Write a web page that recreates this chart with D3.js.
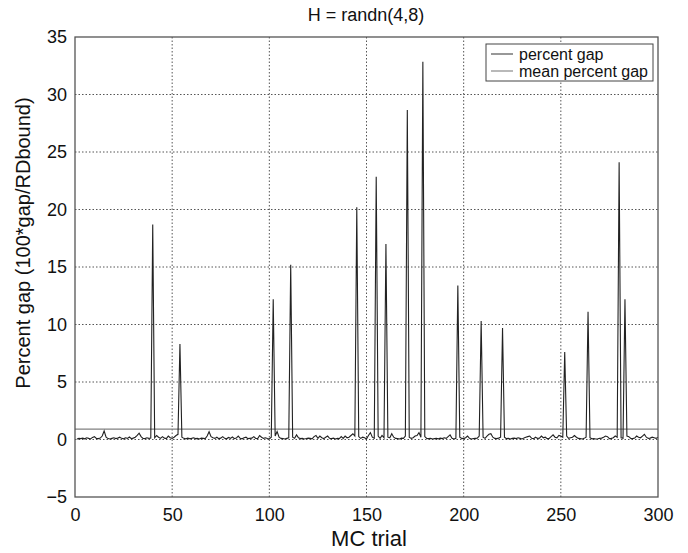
<!DOCTYPE html>
<html>
<head>
<meta charset="utf-8">
<script src="https://cdn.jsdelivr.net/npm/d3@7"></script>
<style>
  body { margin: 0; background: #fff; }
  svg { font-family: "Liberation Sans", Arial, sans-serif; }
</style>
</head>
<body>
<div id="container"></div>
<script>
/** DATA */
const titleText = "H = randn(4,8)";
const xLabel = "MC trial";
const yLabel = "Percent gap (100*gap/RDbound)";
const legendLabels = ["percent gap", "mean percent gap"];
const xTicks = [0, 50, 100, 150, 200, 250, 300];
const yTicks = [-5, 0, 5, 10, 15, 20, 25, 30, 35];

// percent gap for MC trials 1..300
const percentGap = [
  0.05,0.1,0.08,0.12,0.06,0.15,0.1,0.05,0.18,0.25,
  0.1,0.08,0.12,0.3,0.74,0.2,0.08,0.05,0.1,0.15,
  0.08,0.12,0.2,0.1,0.06,0.15,0.1,0.22,0.08,0.12,
  0.2,0.35,0.55,0.25,0.1,0.08,0.15,0.1,0.12,18.7,
  0.15,0.35,0.2,0.1,0.25,0.12,0.08,0.3,0.15,0.1,
  0.2,0.35,0.45,8.3,0.2,0.1,0.06,0.12,0.08,0.1,
  0.15,0.08,0.1,0.05,0.12,0.1,0.08,0.3,0.68,0.25,
  0.15,0.1,0.2,0.08,0.12,0.25,0.1,0.06,0.18,0.1,
  0.22,0.08,0.12,0.3,0.1,0.06,0.15,0.2,0.08,0.1,
  0.12,0.25,0.1,0.08,0.35,0.2,0.1,0.15,0.08,0.05,
  0.2,12.2,0.3,0.7,0.2,0.1,0.08,0.05,0.1,0.15,
  15.2,0.2,0.1,0.4,0.15,0.08,0.1,0.05,0.08,0.12,
  0.1,0.06,0.25,0.35,0.1,0.3,0.15,0.08,0.2,0.3,
  0.1,0.08,0.12,0.05,0.1,0.08,0.25,0.1,0.3,0.15,
  0.2,0.35,0.5,0.3,20.2,0.25,0.1,0.2,0.15,0.05,
  0.35,0.6,0.2,0.1,22.85,0.3,0.1,0.35,0.15,17.0,
  0.2,0.15,0.5,0.2,0.1,0.08,0.05,0.12,0.1,0.3,
  28.65,0.2,0.1,0.15,0.3,0.35,0.6,0.2,32.85,0.25,
  0.1,0.08,0.1,0.05,0.08,0.1,0.06,0.12,0.08,0.15,
  0.1,0.25,0.4,0.1,0.05,0.1,13.4,0.2,0.1,0.08,
  0.15,0.3,0.1,0.05,0.08,0.1,0.12,0.3,10.3,0.2,
  0.1,0.3,0.45,0.5,0.2,0.1,0.08,0.12,0.2,9.7,
  0.2,0.08,0.1,0.05,0.1,0.12,0.08,0.15,0.1,0.05,
  0.12,0.2,0.25,0.3,0.1,0.08,0.2,0.1,0.12,0.3,
  0.15,0.2,0.08,0.1,0.25,0.4,0.2,0.15,0.35,0.3,
  0.2,7.6,0.3,0.1,0.15,0.2,0.35,0.2,0.1,0.08,
  0.05,0.1,0.2,11.1,0.15,0.06,0.08,0.05,0.06,0.1,
  0.12,0.2,0.3,0.25,0.08,0.1,0.15,0.3,0.2,24.1,
  0.15,0.1,12.2,0.3,0.25,0.1,0.08,0.12,0.3,0.2,
  0.15,0.3,0.45,0.2,0.1,0.12,0.2,0.15,0.1,0.2
];
const meanGap = 0.9;

/** LAYOUT */
const width = 688, height = 553,
  margin = { top: 37, right: 30, bottom: 56, left: 75 };

const svg = d3.select("#container").append("svg")
  .attr("width", width)
  .attr("height", height);

const x = d3.scaleLinear().domain([0, 300]).range([margin.left, width - margin.right]);
const y = d3.scaleLinear().domain([-5, 35]).range([height - margin.bottom, margin.top]);

// grid (dotted)
svg.append("g").selectAll("line.vg")
  .data(xTicks.slice(1, -1))
  .join("line")
  .attr("x1", d => x(d)).attr("x2", d => x(d))
  .attr("y1", y(-5)).attr("y2", y(35))
  .attr("stroke", "#555").attr("stroke-width", 1)
  .attr("stroke-dasharray", "1.5,2");
svg.append("g").selectAll("line.hg")
  .data(yTicks.slice(1, -1))
  .join("line")
  .attr("y1", d => y(d)).attr("y2", d => y(d))
  .attr("x1", x(0)).attr("x2", x(300))
  .attr("stroke", "#555").attr("stroke-width", 1)
  .attr("stroke-dasharray", "1.5,2");

// mean line
svg.append("line")
  .attr("x1", x(0)).attr("x2", x(300))
  .attr("y1", y(meanGap)).attr("y2", y(meanGap))
  .attr("stroke", "#808080").attr("stroke-width", 1.2);

// percent gap line
const line = d3.line()
  .x((d, i) => x(i + 1))
  .y(d => y(d));
svg.append("path")
  .datum(percentGap)
  .attr("d", line)
  .attr("fill", "none")
  .attr("stroke", "#222")
  .attr("stroke-width", 1.1)
  .attr("stroke-linejoin", "miter");

// axes box
svg.append("rect")
  .attr("x", x(0)).attr("y", y(35))
  .attr("width", x(300) - x(0)).attr("height", y(-5) - y(35))
  .attr("fill", "none").attr("stroke", "#555").attr("stroke-width", 1.3);

// ticks
const xAxis = d3.axisBottom(x).tickValues(xTicks).tickSize(0).tickPadding(11);
svg.append("g")
  .attr("transform", `translate(0,${y(-5)})`)
  .call(xAxis)
  .call(g => g.select(".domain").remove())
  .selectAll("text")
  .attr("font-size", 18).attr("fill", "#111")
  .attr("font-family", "Liberation Sans, Arial, sans-serif");

const yAxis = d3.axisLeft(y).tickValues(yTicks).tickSize(0).tickPadding(8);
svg.append("g")
  .attr("transform", `translate(${x(0)},0)`)
  .call(yAxis)
  .call(g => g.select(".domain").remove())
  .selectAll("text")
  .attr("font-size", 18).attr("fill", "#111")
  .attr("font-family", "Liberation Sans, Arial, sans-serif");

// labels
svg.append("text")
  .attr("x", 366).attr("y", 21)
  .attr("text-anchor", "middle")
  .attr("font-size", 18).attr("fill", "#111")
  .text(titleText);
svg.append("text")
  .attr("x", 369).attr("y", 546)
  .attr("text-anchor", "middle")
  .attr("font-size", 22).attr("fill", "#111")
  .text(xLabel);
svg.append("text")
  .attr("transform", "translate(30,243) rotate(-90)")
  .attr("text-anchor", "middle")
  .attr("font-size", 20).attr("fill", "#111")
  .text(yLabel);

// legend
const legend = svg.append("g");
legend.append("rect")
  .attr("x", 486).attr("y", 44).attr("width", 167).attr("height", 37)
  .attr("fill", "#fff").attr("stroke", "#444").attr("stroke-width", 1);
const legendColors = ["#444", "#808080"];
legendLabels.forEach((lab, i) => {
  const cy = 54 + i * 17;
  legend.append("line")
    .attr("x1", 491).attr("x2", 513)
    .attr("y1", cy).attr("y2", cy)
    .attr("stroke", legendColors[i]).attr("stroke-width", 1.1);
  legend.append("text")
    .attr("x", 519).attr("y", cy + 5.5)
    .attr("font-size", 16).attr("fill", "#111")
    .text(lab);
});
</script>
</body>
</html>
